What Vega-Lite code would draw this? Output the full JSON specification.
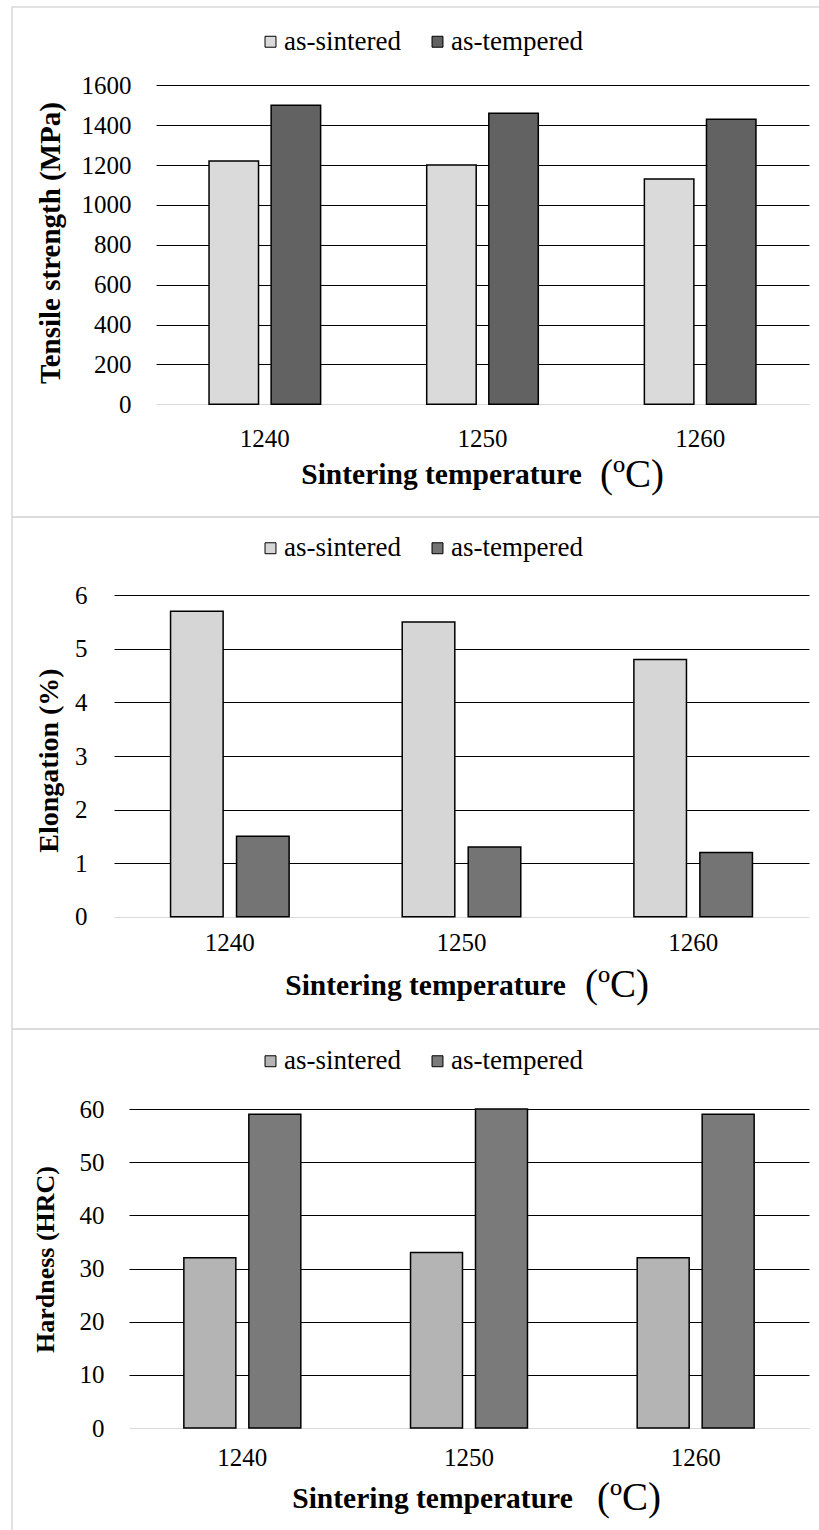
{
  "$schema": "https://vega.github.io/schema/vega-lite/v6.json",
  "padding": {"left": 11, "top": 6, "right": 0, "bottom": 0},
  "spacing": 0,
  "bounds": "flush",
  "background": "white",
  "datasets": {
    "tensile": [
      {"temp": "1240", "state": "as-sintered", "value": 1220},
      {"temp": "1240", "state": "as-tempered", "value": 1500},
      {"temp": "1250", "state": "as-sintered", "value": 1200},
      {"temp": "1250", "state": "as-tempered", "value": 1460},
      {"temp": "1260", "state": "as-sintered", "value": 1130},
      {"temp": "1260", "state": "as-tempered", "value": 1430}
    ],
    "elong": [
      {"temp": "1240", "state": "as-sintered", "value": 5.7},
      {"temp": "1240", "state": "as-tempered", "value": 1.5},
      {"temp": "1250", "state": "as-sintered", "value": 5.5},
      {"temp": "1250", "state": "as-tempered", "value": 1.3},
      {"temp": "1260", "state": "as-sintered", "value": 4.8},
      {"temp": "1260", "state": "as-tempered", "value": 1.2}
    ],
    "hard": [
      {"temp": "1240", "state": "as-sintered", "value": 32},
      {"temp": "1240", "state": "as-tempered", "value": 59},
      {"temp": "1250", "state": "as-sintered", "value": 33},
      {"temp": "1250", "state": "as-tempered", "value": 60},
      {"temp": "1260", "state": "as-sintered", "value": 32},
      {"temp": "1260", "state": "as-tempered", "value": 59}
    ]
  },
  "config": {
    "view": {"stroke": "#d9d9d9", "strokeWidth": 1.5},
    "font": "Liberation Serif",
    "axis": {"labelFont": "Liberation Serif", "titleFont": "Liberation Serif", "labelColor": "black", "titleColor": "black", "labelFontSize": 25, "labelOverlap": false, "labelBound": false, "labelFlush": false},
    "legend": {"labelFont": "Liberation Serif", "labelColor": "black", "labelFontSize": 27},
    "title": {"font": "Liberation Serif", "color": "black", "fontSize": 39, "fontWeight": "normal", "orient": "bottom", "anchor": "start", "frame": "group", "baseline": "middle"}
  },
  "resolve": {
    "scale": {"color": "independent", "x": "independent", "y": "independent", "xOffset": "independent"},
    "legend": {"color": "independent"},
    "axis": {"x": "independent", "y": "independent"}
  },
  "vconcat": [
    {
      "width": 820, "height": 510,
      "data": {"name": "tensile"},
      "title": {"text": "(ºC)", "dx": 588, "dy": -65},
      "mark": {"type": "bar", "stroke": "black", "strokeWidth": 1.5},
      "encoding": {
        "x": {"field": "temp", "type": "nominal",
          "scale": {"range": [144, 797], "paddingInner": 0, "paddingOuter": 0},
          "axis": {"orient": "bottom", "offset": -112.7, "domain": false, "ticks": false, "labelAngle": 0, "labelPadding": 22, "labelFont": "Liberation Serif",
            "title": "Sintering temperature", "titleFont": "Liberation Serif", "titleFontSize": 29.5, "titleFontWeight": "bold", "titleY": 70, "titleX": 429, "titleBaseline": "middle"}},
        "xOffset": {"field": "state", "type": "nominal", "scale": {"paddingInner": 0.203, "paddingOuter": 0.854}},
        "y": {"field": "value", "type": "quantitative",
          "scale": {"domain": [0, 1600], "range": [397.3, 78.3], "nice": false, "zero": true},
          "axis": {"values": [0, 200, 400, 600, 800, 1000, 1200, 1400, 1600], "format": "d", "offset": -144, "domain": false, "ticks": false, "labelPadding": 25, "labelFont": "Liberation Serif",
            "grid": true, "gridColor": {"condition": {"test": "datum.value === 0", "value": "#d9d9d9"}, "value": "black"}, "gridWidth": 1.2,
            "title": "Tensile strength (MPa)", "titleFont": "Liberation Serif", "titleFontSize": 29, "titleFontWeight": "bold", "titleX": -106, "titleY": 235.5, "titleAlign": "center", "titleBaseline": "middle"}},
        "color": {"field": "state", "type": "nominal",
          "scale": {"domain": ["as-sintered", "as-tempered"], "range": ["#dadada", "#626262"]},
          "legend": {"orient": "none", "legendX": 245, "legendY": 21, "direction": "horizontal", "title": null, "symbolType": "square", "symbolSize": 120,
            "labelFont": "Liberation Serif", "labelFontSize": 27,
            "symbolStrokeColor": "black", "symbolStrokeWidth": 1, "symbolOpacity": 1, "columnPadding": 23, "labelOffset": 0}}
      }
    },
    {
      "width": 820, "height": 512,
      "data": {"name": "elong"},
      "title": {"text": "(ºC)", "dx": 573, "dy": -67},
      "mark": {"type": "bar", "stroke": "black", "strokeWidth": 1.5},
      "encoding": {
        "x": {"field": "temp", "type": "nominal",
          "scale": {"range": [102, 797], "paddingInner": 0, "paddingOuter": 0},
          "axis": {"orient": "bottom", "offset": -112.3, "domain": false, "ticks": false, "labelAngle": 0, "labelPadding": 14, "labelFont": "Liberation Serif",
            "title": "Sintering temperature", "titleFont": "Liberation Serif", "titleFontSize": 29.5, "titleFontWeight": "bold", "titleY": 69, "titleX": 413, "titleBaseline": "middle"}},
        "xOffset": {"field": "state", "type": "nominal", "scale": {"paddingInner": 0.203, "paddingOuter": 0.857}},
        "y": {"field": "value", "type": "quantitative",
          "scale": {"domain": [0, 6], "range": [399.7, 78.3], "nice": false, "zero": true},
          "axis": {"values": [0, 1, 2, 3, 4, 5, 6], "format": "d", "offset": -102, "domain": false, "ticks": false, "labelPadding": 27, "labelFont": "Liberation Serif",
            "grid": true, "gridColor": {"condition": {"test": "datum.value === 0", "value": "#d9d9d9"}, "value": "black"}, "gridWidth": 1.2,
            "title": "Elongation (%)", "titleFont": "Liberation Serif", "titleFontSize": 28, "titleFontWeight": "bold", "titleX": -65, "titleY": 243, "titleAlign": "center", "titleBaseline": "middle"}},
        "color": {"field": "state", "type": "nominal",
          "scale": {"domain": ["as-sintered", "as-tempered"], "range": ["#d6d6d6", "#747474"]},
          "legend": {"orient": "none", "legendX": 245, "legendY": 17.5, "direction": "horizontal", "title": null, "symbolType": "square", "symbolSize": 120,
            "labelFont": "Liberation Serif", "labelFontSize": 27,
            "symbolStrokeColor": "black", "symbolStrokeWidth": 1, "symbolOpacity": 1, "columnPadding": 23, "labelOffset": 0}}
      }
    },
    {
      "width": 820, "height": 503,
      "data": {"name": "hard"},
      "title": {"text": "(ºC)", "dx": 585, "dy": -57},
      "mark": {"type": "bar", "stroke": "black", "strokeWidth": 1.5},
      "encoding": {
        "x": {"field": "temp", "type": "nominal",
          "scale": {"range": [117, 797], "paddingInner": 0, "paddingOuter": 0},
          "axis": {"orient": "bottom", "offset": -104, "domain": false, "ticks": false, "labelAngle": 0, "labelPadding": 17, "labelFont": "Liberation Serif",
            "title": "Sintering temperature", "titleFont": "Liberation Serif", "titleFontSize": 29.5, "titleFontWeight": "bold", "titleY": 70, "titleX": 420, "titleBaseline": "middle"}},
        "xOffset": {"field": "state", "type": "nominal", "scale": {"paddingInner": 0.2, "paddingOuter": 0.844}},
        "y": {"field": "value", "type": "quantitative",
          "scale": {"domain": [0, 60], "range": [399, 80], "nice": false, "zero": true},
          "axis": {"values": [0, 10, 20, 30, 40, 50, 60], "format": "d", "offset": -117, "domain": false, "ticks": false, "labelPadding": 25, "labelFont": "Liberation Serif",
            "grid": true, "gridColor": {"condition": {"test": "datum.value === 0", "value": "#d9d9d9"}, "value": "black"}, "gridWidth": 1.2,
            "title": "Hardness (HRC)", "titleFont": "Liberation Serif", "titleFontSize": 26, "titleFontWeight": "bold", "titleX": -84, "titleY": 230, "titleAlign": "center", "titleBaseline": "middle"}},
        "color": {"field": "state", "type": "nominal",
          "scale": {"domain": ["as-sintered", "as-tempered"], "range": ["#b4b4b4", "#7a7a7a"]},
          "legend": {"orient": "none", "legendX": 245, "legendY": 18.5, "direction": "horizontal", "title": null, "symbolType": "square", "symbolSize": 120,
            "labelFont": "Liberation Serif", "labelFontSize": 27,
            "symbolStrokeColor": "black", "symbolStrokeWidth": 1, "symbolOpacity": 1, "columnPadding": 23, "labelOffset": 0}}
      }
    }
  ]
}
